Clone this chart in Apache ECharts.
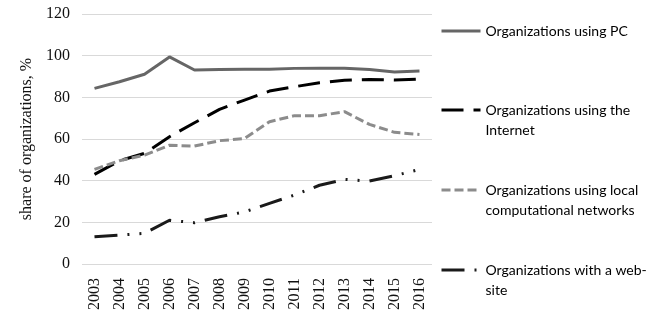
<!DOCTYPE html>
<html>
<head>
<meta charset="utf-8">
<script src="https://cdn.jsdelivr.net/npm/echarts@6/dist/echarts.min.js"></script>
<style>html,body{margin:0;padding:0;background:#fff}#c{width:656px;height:326px}</style>
</head>
<body>
<div id="c"></div>
<script>
var years = ['2003','2004','2005','2006','2007','2008','2009','2010','2011','2012','2013','2014','2015','2016'];
var yTicks = [0, 20, 40, 60, 80, 100, 120];
var namePC = 'Organizations using PC';
var nameNet = 'Organizations using the Internet';
var nameLocal = 'Organizations using local computational networks';
var nameWeb = 'Organizations with a web-site';
var pc = [84.3, 87.5, 91.1, 99.4, 93.1, 93.4, 93.5, 93.5, 93.9, 94.0, 94.0, 93.4, 92.2, 92.6];
var internet = [43.0, 49.6, 53.1, 61.1, 67.8, 74.2, 78.7, 83.0, 85.1, 87.0, 88.2, 88.6, 88.3, 88.8];
var localNet = [45.4, 49.6, 52.3, 57.0, 56.6, 59.2, 60.2, 68.3, 71.2, 71.2, 73.1, 67.0, 63.2, 62.2];
var website = [13.1, 13.9, 14.7, 21.0, 19.8, 22.7, 25.0, 29.1, 33.1, 37.8, 40.6, 39.8, 42.4, 45.4];

var legendLabels = {};
legendLabels[namePC] = 'Organizations using PC';
legendLabels[nameNet] = '\nOrganizations using the\nInternet';
legendLabels[nameLocal] = '\nOrganizations using local\ncomputational networks';
legendLabels[nameWeb] = '\nOrganizations with a web-\nsite';

var serif = '"Liberation Serif", "Times New Roman", serif';
var sans = 'Lato, "Open Sans", sans-serif';

function mkLegend(name, top) {
  return {
    data: [name],
    left: 440,
    top: top,
    padding: 0,
    itemWidth: 39,
    itemHeight: 14,
    itemGap: 0,
    lineStyle: { width: 3 },
    itemStyle: { color: 'transparent', borderColor: 'transparent', borderWidth: 0, opacity: 0 },
    formatter: function (n) { return legendLabels[n]; },
    textStyle: {
      fontFamily: sans,
      fontSize: 14,
      color: '#000',
      lineHeight: 20
    }
  };
}

var chart = echarts.init(document.getElementById('c'), null, { renderer: 'canvas' });
chart.setOption({
  animation: false,
  backgroundColor: '#fff',
  grid: { left: 82, right: 224, top: 14, bottom: 62, containLabel: false },
  legend: [
    mkLegend(namePC, 21),
    mkLegend(nameNet, 80),
    mkLegend(nameLocal, 160),
    mkLegend(nameWeb, 240)
  ],
  xAxis: {
    type: 'category',
    data: years,
    boundaryGap: true,
    axisLine: { show: false },
    axisTick: { show: false },
    axisLabel: {
      rotate: 90,
      interval: 0,
      margin: 14,
      fontFamily: serif,
      fontSize: 16,
      color: '#111'
    }
  },
  yAxis: {
    type: 'value',
    min: 0,
    max: 120,
    interval: 20,
    name: 'share of organizations, %',
    nameLocation: 'middle',
    nameGap: 42,
    nameTextStyle: { fontFamily: serif, fontSize: 16, color: '#111' },
    axisLine: { show: false },
    axisTick: { show: false },
    axisLabel: {
      margin: 12,
      fontFamily: serif,
      fontSize: 16,
      color: '#111',
      formatter: function (v) { return yTicks.indexOf(v) >= 0 ? String(v) : ''; }
    },
    splitLine: { lineStyle: { color: '#d9d9d9', width: 1 } }
  },
  series: [
    {
      name: namePC, type: 'line', data: pc, symbol: 'none',
      lineStyle: { color: '#666666', width: 3, type: 'solid' },
      itemStyle: { color: '#666666' }
    },
    {
      name: nameNet, type: 'line', data: internet, symbol: 'none',
      lineStyle: { color: '#000000', width: 3, type: [22, 10] },
      itemStyle: { color: '#000000' }
    },
    {
      name: nameLocal, type: 'line', data: localNet, symbol: 'none',
      lineStyle: { color: '#8c8c8c', width: 3, type: [9, 4] },
      itemStyle: { color: '#8c8c8c' }
    },
    {
      name: nameWeb, type: 'line', data: website, symbol: 'none',
      lineStyle: { color: '#1a1a1a', width: 3, type: [23, 10, 2, 10, 2, 10] },
      itemStyle: { color: '#1a1a1a' }
    }
  ]
});
</script>
</body>
</html>
